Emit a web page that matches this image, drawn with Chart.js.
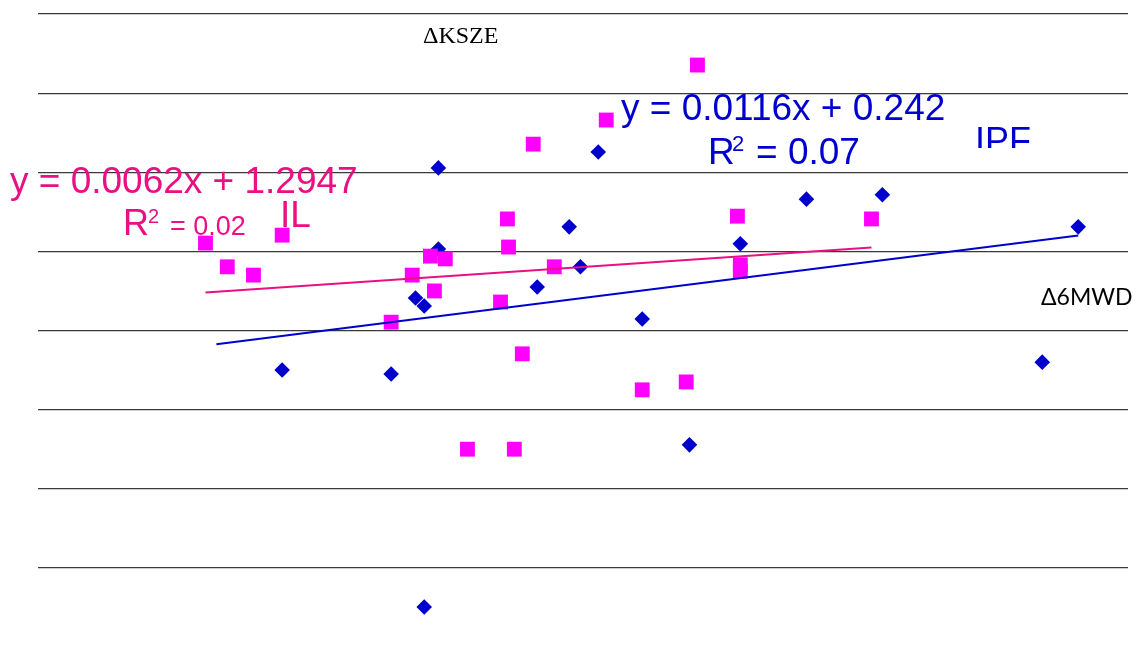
<!DOCTYPE html>
<html>
<head>
<meta charset="utf-8">
<script src="https://cdn.jsdelivr.net/npm/chart.js@4"></script>
<style>
  html, body { margin: 0; padding: 0; background: #fff; overflow: hidden; }
  #wrap { width: 1140px; height: 648px; }
</style>
</head>
<body>
<div id="wrap"><canvas id="grafico"></canvas></div>
<script>
// Datos (x = Δ6MWD, y = ΔKSZE)
const ilX  = [-53.9, -47.9, -40.7, -32.8, -2.8, 3.0, 8.0, 9.1, 12.1, 18.2, 27.3, 29.2, 29.5, 31.1, 33.3, 36.3, 42.1, 56.4, 66.3, 78.4, 81.5, 92.5, 93.3, 93.3, 129.4];
const ilY  = [2.21, 1.61, 1.40, 2.41, 0.21, 1.40, 1.88, 1.00, 1.81, -3.00, 0.72, 2.82, 2.11, -3.00, -0.59, 4.71, 1.61, 5.32, -1.50, -1.30, 6.71, 2.89, 1.66, 1.50, 2.82];

const ipfX = [-32.8, -2.8, 3.9, 6.3, 10.2, 10.2, 37.4, 46.2, 49.3, 54.2, 66.3, 79.3, 93.3, 111.5, 132.4, 176.4, 186.3, 6.3];
const ipfY = [-1.00, -1.10, 0.82, 0.62, 4.11, 2.06, 1.10, 2.62, 1.61, 4.51, 0.29, -2.89, 2.19, 3.32, 3.43, -0.80, 2.62, -6.99];

// Líneas de tendencia: [pendiente, intercepto] y rango de x
const ilTrendCoef  = [0.0062, 1.2947];
const ilTrendX     = [-53.9, 129.4];
const ipfTrendCoef = [0.0116, 0.242];
const ipfTrendX    = [-50.9, 186.3];

// Valores de las líneas de cuadrícula
const yTicks = [-8, -6, -4, -2, 0, 2, 4, 6, 8];

const rosa = '#ea0f83';
const azul = '#0000cc';

const puntos = (xs, ys) => xs.map((x, i) => ({ x: x, y: ys[i] }));
const tendencia = (coef, rango) => rango.map(x => ({ x: x, y: coef[0] * x + coef[1] }));

// Textos del gráfico (posición en píxeles del lienzo)
const textos = [
  { t: 'y = 0.0062x + 1.2947', x: 10, y: 193, font: '37px "Liberation Sans"', color: rosa },
  { t: 'R', x: 123, y: 235, font: '36px "Liberation Sans"', color: rosa },
  { t: '2', x: 148, y: 223, font: '20px "Liberation Sans"', color: rosa },
  { t: '= 0.02', x: 170, y: 235, font: '27px "Liberation Sans"', color: rosa },
  { t: 'IL', x: 280, y: 227, font: '37px "Liberation Sans"', color: rosa },
  { t: 'y = 0.0116x + 0.242', x: 621, y: 120, font: '37px "Liberation Sans"', color: azul },
  { t: 'R', x: 708, y: 164, font: '37px "Liberation Sans"', color: azul },
  { t: '2', x: 732, y: 151, font: '22px "Liberation Sans"', color: azul },
  { t: '= 0.07', x: 756, y: 164, font: '37px "Liberation Sans"', color: azul },
  { t: 'IPF', x: 975, y: 153, font: '36px "Liberation Sans"', color: azul, clipY: 148 },
  { t: 'ΔKSZE', x: 423, y: 43, font: '24px "Liberation Serif"', color: '#000' },
  { t: 'Δ6MWD', x: 1041, y: 305, font: '23px Lato', color: '#000' }
];

const pluginTextos = {
  id: 'textos',
  afterDatasetsDraw(chart) {
    const c = chart.ctx;
    textos.forEach(o => {
      c.save();
      if (o.clipY) {
        c.beginPath();
        c.rect(0, 0, chart.width, o.clipY);
        c.clip();
      }
      c.font = o.font;
      c.fillStyle = o.color;
      c.textBaseline = 'alphabetic';
      c.textAlign = 'left';
      c.fillText(o.t, o.x, o.y);
      c.restore();
    });
  }
};

const ctx = document.getElementById('grafico').getContext('2d');
const grafico = new Chart(ctx, {
  type: 'scatter',
  data: {
    datasets: [
      {
        label: 'IL',
        data: puntos(ilX, ilY),
        pointStyle: 'rect',
        pointRadius: 10.5,
        pointBorderWidth: 0,
        backgroundColor: '#ff00ff',
        order: 1
      },
      {
        label: 'IPF',
        data: puntos(ipfX, ipfY),
        pointStyle: 'rectRot',
        pointRadius: 7.8,
        pointBorderWidth: 0,
        backgroundColor: azul,
        order: 2
      },
      {
        type: 'line',
        label: 'Tendencia IL',
        data: tendencia(ilTrendCoef, ilTrendX),
        borderColor: rosa,
        borderWidth: 2,
        pointRadius: 0,
        fill: false,
        order: 0
      },
      {
        type: 'line',
        label: 'Tendencia IPF',
        data: tendencia(ipfTrendCoef, ipfTrendX),
        borderColor: azul,
        borderWidth: 2,
        pointRadius: 0,
        fill: false,
        order: 0
      }
    ]
  },
  options: {
    responsive: true,
    maintainAspectRatio: false,
    animation: false,
    layout: { autoPadding: false, padding: { left: 38, right: 12, top: 14, bottom: 1 } },
    plugins: {
      legend: { display: false },
      tooltip: { enabled: false }
    },
    scales: {
      x: {
        type: 'linear',
        min: -100,
        max: 200,
        display: false
      },
      y: {
        min: -8,
        max: 8,
        afterBuildTicks: s => { s.ticks = yTicks.map(v => ({ value: v })); },
        afterFit: s => { s.width = 0; },
        ticks: { display: false },
        border: { display: false },
        grid: { color: '#3a3a3a', lineWidth: 1.2, drawTicks: false }
      }
    }
  },
  plugins: [pluginTextos]
});
</script>
</body>
</html>
